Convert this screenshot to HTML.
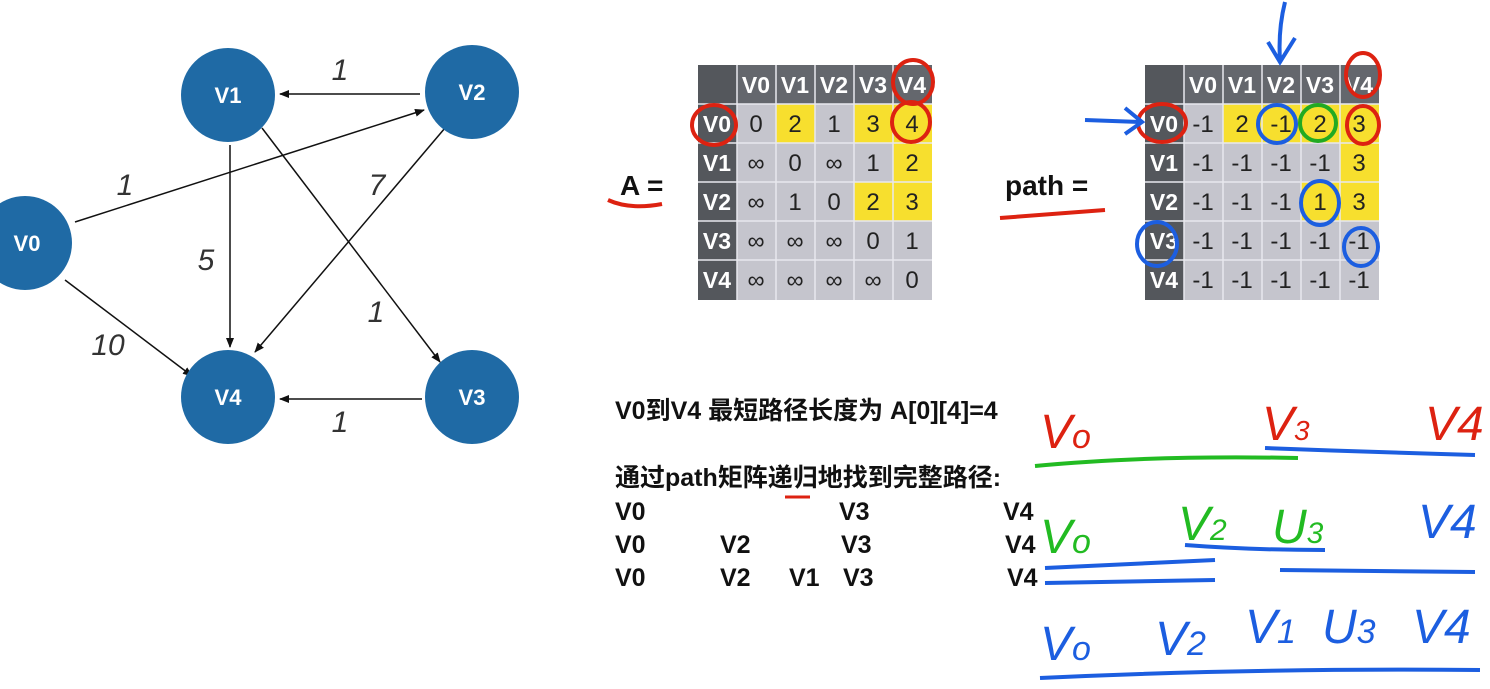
<!DOCTYPE html>
<html><head><meta charset="utf-8"><style>
html,body{margin:0;padding:0;background:#fff;}
svg{display:block;}
.n{font:bold 22px "Liberation Sans",sans-serif;fill:#fff;text-anchor:middle;}
.w{font:italic 30px "Liberation Sans",sans-serif;fill:#333;text-anchor:middle;}
.h{font:bold 23px "Liberation Sans",sans-serif;fill:#fff;text-anchor:middle;}
.c{font:24px "Liberation Sans",sans-serif;fill:#222;text-anchor:middle;}
.t{font:bold 25px "Liberation Sans","Noto Sans CJK SC",sans-serif;fill:#111;}
.hw{font:italic 48px "Liberation Sans",sans-serif;}
</style></head><body>
<svg width="1490" height="689" viewBox="0 0 1490 689" xmlns="http://www.w3.org/2000/svg">
<defs><marker id="ar" markerWidth="10" markerHeight="8" refX="9" refY="4" orient="auto" markerUnits="userSpaceOnUse"><path d="M0,0 L10,4 L0,8 z" fill="#111"/></marker></defs>
<g stroke="#111" stroke-width="1.5" marker-end="url(#ar)">
<line x1="420" y1="94" x2="280" y2="94"/>
<line x1="75" y1="222" x2="424" y2="110"/>
<line x1="230" y1="145" x2="230" y2="347"/>
<line x1="262" y1="128" x2="440" y2="362"/>
<line x1="445" y1="128" x2="255" y2="352"/>
<line x1="65" y1="280" x2="192" y2="376"/>
<line x1="422" y1="399" x2="280" y2="399"/>
</g>
<g fill="#1f6aa5">
<circle cx="228" cy="95" r="47"/><circle cx="472" cy="92" r="47"/><circle cx="25" cy="243" r="47"/><circle cx="228" cy="397" r="47"/><circle cx="472" cy="397" r="47"/>
</g>
<text class="n" x="228" y="103">V1</text><text class="n" x="472" y="100">V2</text><text class="n" x="27" y="251">V0</text><text class="n" x="228" y="405">V4</text><text class="n" x="472" y="405">V3</text>
<text class="w" x="340" y="80">1</text><text class="w" x="125" y="195">1</text><text class="w" x="377" y="195">7</text><text class="w" x="206" y="270">5</text><text class="w" x="376" y="322">1</text><text class="w" x="108" y="355">10</text><text class="w" x="340" y="432">1</text>

<rect x="698" y="65" width="234" height="235" fill="#c5c5cd"/>
<rect x="698" y="65" width="234" height="39" fill="#64676d"/>
<rect x="698" y="65" width="39" height="235" fill="#54575c"/>
<g fill="#f7df2e"><rect x="776" y="104" width="39" height="39"/><rect x="854" y="104" width="78" height="39"/><rect x="893" y="143" width="39" height="39"/><rect x="854" y="182" width="78" height="39"/></g>
<g stroke="#e8e8ee" stroke-width="1.5"><line x1="737" y1="65" x2="737" y2="300"/><line x1="776" y1="65" x2="776" y2="300"/><line x1="815" y1="65" x2="815" y2="300"/><line x1="854" y1="65" x2="854" y2="300"/><line x1="893" y1="65" x2="893" y2="300"/><line x1="698" y1="104" x2="932" y2="104"/><line x1="698" y1="143" x2="932" y2="143"/><line x1="698" y1="182" x2="932" y2="182"/><line x1="698" y1="221" x2="932" y2="221"/><line x1="698" y1="260" x2="932" y2="260"/></g>
<text class="h" x="756" y="93">V0</text><text class="h" x="795" y="93">V1</text><text class="h" x="834" y="93">V2</text><text class="h" x="873" y="93">V3</text><text class="h" x="912" y="93">V4</text>
<text class="h" x="717" y="132">V0</text><text class="h" x="717" y="171">V1</text><text class="h" x="717" y="210">V2</text><text class="h" x="717" y="249">V3</text><text class="h" x="717" y="288">V4</text>
<text class="c" x="756" y="132">0</text><text class="c" x="795" y="132">2</text><text class="c" x="834" y="132">1</text><text class="c" x="873" y="132">3</text><text class="c" x="912" y="132">4</text>
<text class="c" x="756" y="171">∞</text><text class="c" x="795" y="171">0</text><text class="c" x="834" y="171">∞</text><text class="c" x="873" y="171">1</text><text class="c" x="912" y="171">2</text>
<text class="c" x="756" y="210">∞</text><text class="c" x="795" y="210">1</text><text class="c" x="834" y="210">0</text><text class="c" x="873" y="210">2</text><text class="c" x="912" y="210">3</text>
<text class="c" x="756" y="249">∞</text><text class="c" x="795" y="249">∞</text><text class="c" x="834" y="249">∞</text><text class="c" x="873" y="249">0</text><text class="c" x="912" y="249">1</text>
<text class="c" x="756" y="288">∞</text><text class="c" x="795" y="288">∞</text><text class="c" x="834" y="288">∞</text><text class="c" x="873" y="288">∞</text><text class="c" x="912" y="288">0</text>

<rect x="1145" y="65" width="234" height="235" fill="#c5c5cd"/>
<rect x="1145" y="65" width="234" height="39" fill="#64676d"/>
<rect x="1145" y="65" width="39" height="235" fill="#54575c"/>
<g fill="#f7df2e"><rect x="1223" y="104" width="156" height="39"/><rect x="1340" y="143" width="39" height="39"/><rect x="1301" y="182" width="78" height="39"/></g>
<g stroke="#e8e8ee" stroke-width="1.5"><line x1="1184" y1="65" x2="1184" y2="300"/><line x1="1223" y1="65" x2="1223" y2="300"/><line x1="1262" y1="65" x2="1262" y2="300"/><line x1="1301" y1="65" x2="1301" y2="300"/><line x1="1340" y1="65" x2="1340" y2="300"/><line x1="1145" y1="104" x2="1379" y2="104"/><line x1="1145" y1="143" x2="1379" y2="143"/><line x1="1145" y1="182" x2="1379" y2="182"/><line x1="1145" y1="221" x2="1379" y2="221"/><line x1="1145" y1="260" x2="1379" y2="260"/></g>
<text class="h" x="1203" y="93">V0</text><text class="h" x="1242" y="93">V1</text><text class="h" x="1281" y="93">V2</text><text class="h" x="1320" y="93">V3</text><text class="h" x="1359" y="93">V4</text>
<text class="h" x="1164" y="132">V0</text><text class="h" x="1164" y="171">V1</text><text class="h" x="1164" y="210">V2</text><text class="h" x="1164" y="249">V3</text><text class="h" x="1164" y="288">V4</text>
<text class="c" x="1203" y="132">-1</text><text class="c" x="1242" y="132">2</text><text class="c" x="1281" y="132">-1</text><text class="c" x="1320" y="132">2</text><text class="c" x="1359" y="132">3</text>
<text class="c" x="1203" y="171">-1</text><text class="c" x="1242" y="171">-1</text><text class="c" x="1281" y="171">-1</text><text class="c" x="1320" y="171">-1</text><text class="c" x="1359" y="171">3</text>
<text class="c" x="1203" y="210">-1</text><text class="c" x="1242" y="210">-1</text><text class="c" x="1281" y="210">-1</text><text class="c" x="1320" y="210">1</text><text class="c" x="1359" y="210">3</text>
<text class="c" x="1203" y="249">-1</text><text class="c" x="1242" y="249">-1</text><text class="c" x="1281" y="249">-1</text><text class="c" x="1320" y="249">-1</text><text class="c" x="1359" y="249">-1</text>
<text class="c" x="1203" y="288">-1</text><text class="c" x="1242" y="288">-1</text><text class="c" x="1281" y="288">-1</text><text class="c" x="1320" y="288">-1</text><text class="c" x="1359" y="288">-1</text>

<text x="620" y="195" style="font:bold 28px 'Liberation Sans',sans-serif;fill:#111">A =</text>
<path d="M608,200 Q630,210 662,204" stroke="#d21" stroke-width="4" fill="none"/>
<text x="1005" y="195" style="font:bold 28px 'Liberation Sans',sans-serif;fill:#111">path =</text>
<path d="M1000,218 Q1050,214 1105,210" stroke="#d21" stroke-width="4" fill="none"/>

<g fill="none" stroke-width="4">
<ellipse cx="714" cy="125" rx="22" ry="20" stroke="#d21"/>
<ellipse cx="913" cy="82" rx="20" ry="22" stroke="#d21"/>
<ellipse cx="911" cy="122" rx="19" ry="20" stroke="#d21"/>
<ellipse cx="1162" cy="123" rx="24" ry="19" stroke="#d21"/>
<ellipse cx="1363" cy="75" rx="17" ry="22" stroke="#d21"/>
<ellipse cx="1363" cy="125" rx="16" ry="19" stroke="#d21"/>
<ellipse cx="1318" cy="123" rx="18" ry="18" stroke="#2a2"/>
<ellipse cx="1277" cy="124" rx="19" ry="19" stroke="#1c5ee0"/>
<ellipse cx="1320" cy="203" rx="19" ry="22" stroke="#1c5ee0"/>
<ellipse cx="1157" cy="244" rx="20" ry="22" stroke="#1c5ee0"/>
<ellipse cx="1361" cy="247" rx="17" ry="19" stroke="#1c5ee0"/>
<path d="M1285,2 Q1278,30 1280,60 M1268,42 L1280,62 L1295,38" stroke="#1c5ee0"/>
<path d="M1085,120 L1140,122 M1125,108 L1142,122 L1125,134" stroke="#1c5ee0"/>
</g>

<text class="t" x="615" y="419">V0到V4 最短路径长度为 A[0][4]=4</text>
<text class="t" x="615" y="486">通过path矩阵递归地找到完整路径:</text>
<path d="M785,497 L810,497" stroke="#d21" stroke-width="3"/>
<text class="t" x="615" y="520">V0</text><text class="t" x="839" y="520">V3</text><text class="t" x="1003" y="520">V4</text>
<text class="t" x="615" y="553">V0</text><text class="t" x="720" y="553">V2</text><text class="t" x="841" y="553">V3</text><text class="t" x="1005" y="553">V4</text>
<text class="t" x="615" y="586">V0</text><text class="t" x="720" y="586">V2</text><text class="t" x="789" y="586">V1</text><text class="t" x="843" y="586">V3</text><text class="t" x="1007" y="586">V4</text>

<text class="hw" x="1040" y="448" fill="#d21">V<tspan font-size="34">o</tspan></text>
<text class="hw" x="1262" y="440" fill="#d21">V<tspan font-size="28">3</tspan></text>
<text class="hw" x="1425" y="440" fill="#d21">V4</text>
<text class="hw" x="1040" y="553" fill="#2b2">V<tspan font-size="34">o</tspan></text>
<text class="hw" x="1178" y="540" fill="#2b2">V<tspan font-size="30">2</tspan></text>
<text class="hw" x="1272" y="543" fill="#2b2">U<tspan font-size="30">3</tspan></text>
<text class="hw" x="1418" y="538" fill="#1c5ee0">V4</text>
<text class="hw" x="1040" y="660" fill="#1c5ee0">V<tspan font-size="34">o</tspan></text>
<text class="hw" x="1155" y="655" fill="#1c5ee0">V<tspan font-size="34">2</tspan></text>
<text class="hw" x="1245" y="643" fill="#1c5ee0">V<tspan font-size="34">1</tspan></text>
<text class="hw" x="1322" y="643" fill="#1c5ee0">U<tspan font-size="34">3</tspan></text>
<text class="hw" x="1412" y="643" fill="#1c5ee0">V4</text>
<g fill="none" stroke-width="4">
<path d="M1035,466 Q1150,455 1298,458" stroke="#2b2"/>
<path d="M1265,448 Q1370,452 1475,455" stroke="#1c5ee0"/>
<path d="M1185,545 Q1250,550 1325,550" stroke="#1c5ee0"/>
<path d="M1045,568 L1215,560 M1045,583 L1215,580" stroke="#1c5ee0"/>
<path d="M1280,570 L1475,572" stroke="#1c5ee0"/>
<path d="M1040,678 Q1250,668 1480,670" stroke="#1c5ee0"/>
</g>
</svg>
</body></html>
